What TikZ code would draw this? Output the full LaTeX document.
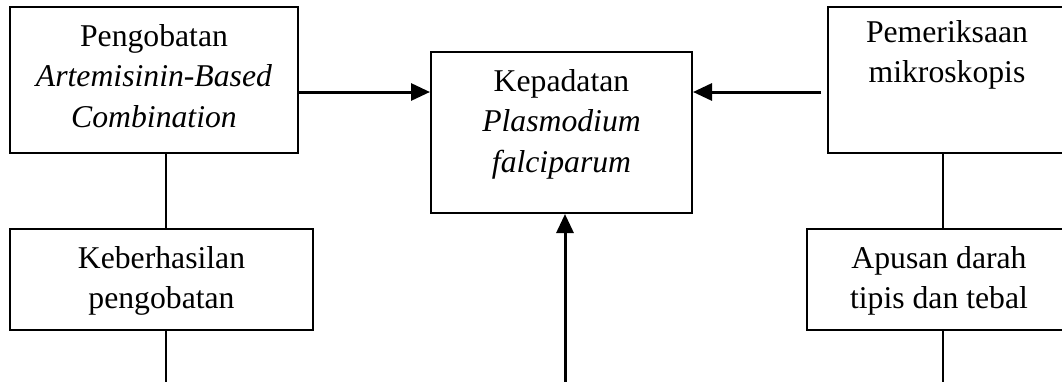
\documentclass[tikz,border=0pt]{standalone}
\usepackage{fontspec}
\setmainfont{Liberation Serif}
\usetikzlibrary{arrows.meta}
\begin{document}
\begin{tikzpicture}[x=0.5pt,y=-0.5pt,
  box/.style={draw, line width=1pt, inner sep=0pt, minimum height=#1},
  lbl/.style={anchor=base, inner sep=0pt, font=\fontsize{15.85}{20.25}\selectfont},
  arr/.style={line width=1.5pt, -{Triangle[length=9.5pt,width=8.5pt]}},
  link/.style={line width=0.75pt}
]
\useasboundingbox (0,0) rectangle (1062,381);
\clip (0,0) rectangle (1062,381);

% boxes
\node[box=73pt, minimum width=144pt]   (pab) at (154,80) {};
\node[box=80.5pt, minimum width=130.5pt] (kp) at (561.5,132.5) {};
\node[box=73pt, minimum width=119pt]   (pm) at (947,80) {};
\node[box=50.5pt, minimum width=151.5pt] (kb) at (161.5,279.5) {};
\node[box=50.5pt, minimum width=132pt] (ap) at (939,279.5) {};

% box texts
\node[lbl] (pabt) at ([yshift=-20pt]pab.north)
  {\parbox[t]{150pt}{\centering Pengobatan\\\textit{Artemisinin-Based}\\\textit{Combination}}};
\node[lbl] (kpt) at ([yshift=-20pt]kp.north)
  {\parbox[t]{130pt}{\centering Kepadatan\\\textit{Plasmodium}\\\textit{falciparum}}};
\node[lbl] (pmt) at ([yshift=-18pt]pm.north)
  {\parbox[t]{120pt}{\centering Pemeriksaan\\mikroskopis}};
\node[lbl] (kbt) at ([yshift=-20pt]kb.north)
  {\parbox[t]{150pt}{\centering Keberhasilan\\pengobatan}};
\node[lbl] (apt) at ([yshift=-20pt]ap.north)
  {\parbox[t]{130pt}{\centering Apusan darah\\tipis dan tebal}};

% guide coordinates for the connectors
\coordinate (ay) at (0,92);
\coordinate (lc) at (166,0);
\coordinate (mc) at (565,0);
\coordinate (rc) at (943,0);
\coordinate (bot) at (0,390);

% arrows into the central box
\draw[arr] (pab.east |- ay) -- (kp.west |- ay);
\draw[arr, shorten <=3pt] (pm.west |- ay) -- (kp.east |- ay);
\draw[arr] (mc |- bot) -- (mc |- kp.south);

% vertical links
\draw[link] (lc |- pab.south) -- (lc |- kb.north);
\draw[link] (lc |- kb.south) -- (lc |- bot);
\draw[link] (rc |- pm.south) -- (rc |- ap.north);
\draw[link] (rc |- ap.south) -- (rc |- bot);
\end{tikzpicture}
\end{document}
